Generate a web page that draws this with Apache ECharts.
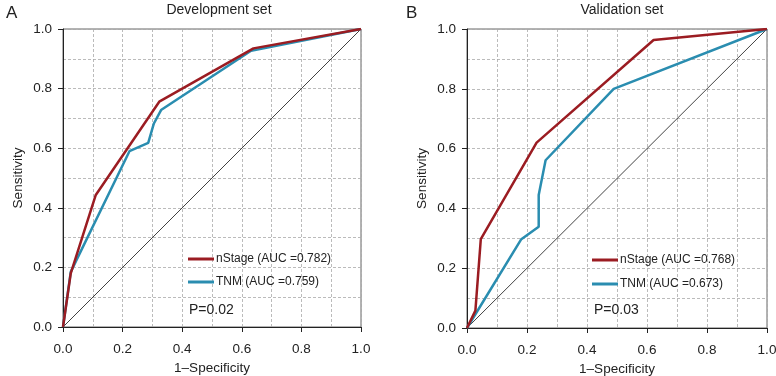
<!DOCTYPE html>
<html><head><meta charset="utf-8">
<script src="https://cdn.jsdelivr.net/npm/echarts@6/dist/echarts.min.js"></script>
<style>html,body{margin:0;padding:0;background:#fff}#c{width:776px;height:376px}</style>
</head><body><div id="c"></div>
<script>
// Panel A: Development set
const devNStage = [[0,0],[0.026,0.18],[0.11,0.443],[0.323,0.756],[0.639,0.935],[1,1]];
const devTNM = [[0,0],[0.026,0.185],[0.223,0.59],[0.286,0.618],[0.305,0.683],[0.329,0.728],[0.631,0.927],[1,1]];
// Panel B: Validation set
const valNStage = [[0,0],[0.028,0.058],[0.046,0.297],[0.232,0.62],[0.622,0.963],[1,1]];
const valTNM = [[0,0],[0.181,0.297],[0.239,0.339],[0.239,0.445],[0.262,0.561],[0.489,0.80],[1,1]];
const diagonal = [[0,0],[1,1]];
const titles = ['Development set','Validation set'];
const panelLetters = ['A','B'];
const namesA = ['nStage (AUC =0.782)','TNM (AUC =0.759)'];
const namesB = ['nStage (AUC =0.768)','TNM (AUC =0.673)'];
const pValues = ['P=0.02','P=0.03'];

const RED = '#9b1c22', TEAL = '#2a8db0';
const FONT = 'Liberation Sans, Arial, sans-serif';
const grids = [
  {left:63, top:29, width:298, height:298},
  {left:467, top:29, width:300, height:299}
];
function xAxis(i){
  return {gridIndex:i, type:'value', min:0, max:1, interval:0.2,
    name:'1\u2013Specificity', nameLocation:'middle', nameGap:32,
    nameTextStyle:{fontFamily:FONT, fontSize:13.5, color:'#222'},
    axisLine:{lineStyle:{color:'#222', width:1}},
    axisTick:{length:5, lineStyle:{color:'#222'}},
    axisLabel:{fontFamily:FONT, fontSize:13.5, color:'#222', margin:15, formatter:v=>v.toFixed(1)},
    splitLine:{show:true, lineStyle:{color:'#aaa', type:[3,2], width:0.8}},
    minorTick:{show:false, splitNumber:2},
    minorSplitLine:{show:true, lineStyle:{color:'#aaa', type:[3,2], width:0.8}}
  };
}
function yAxis(i){
  return {gridIndex:i, type:'value', min:0, max:1, interval:0.2,
    name:'Sensitivity', nameLocation:'middle', nameGap:38,
    nameTextStyle:{fontFamily:FONT, fontSize:13.5, color:'#222'},
    axisLine:{lineStyle:{color:'#222', width:1}},
    axisTick:{length:5, lineStyle:{color:'#222'}},
    axisLabel:{fontFamily:FONT, fontSize:13.5, color:'#222', margin:11, formatter:v=>v.toFixed(1)},
    splitLine:{show:true, lineStyle:{color:'#aaa', type:[3,2], width:0.8}},
    minorTick:{show:false, splitNumber:2},
    minorSplitLine:{show:true, lineStyle:{color:'#aaa', type:[3,2], width:0.8}}
  };
}
function line(name, data, color, i, w){
  return {type:'line', name:name, data:data, xAxisIndex:i, yAxisIndex:i,
    showSymbol:false, symbol:'none', lineStyle:{color:color, width:w}, itemStyle:{color:color},
    animation:false, z:3};
}
const chart = echarts.init(document.getElementById('c'), null, {renderer:'canvas'});
chart.setOption({
  animation:false,
  grid: grids.map(g=>Object.assign({show:true, borderColor:'#666', borderWidth:1, backgroundColor:'transparent', containLabel:false, outerBoundsMode:'none'}, g)),
  xAxis:[xAxis(0), xAxis(1)],
  yAxis:[yAxis(0), yAxis(1)],
  title:[
    {text:titles[0], left:214, top:-2, textAlign:'center', textStyle:{fontFamily:FONT, fontSize:14, fontWeight:'normal', color:'#222'}},
    {text:titles[1], left:617, top:-2, textAlign:'center', textStyle:{fontFamily:FONT, fontSize:14, fontWeight:'normal', color:'#222'}},
    {text:panelLetters[0], left:1, top:0, textStyle:{fontFamily:FONT, fontSize:17, fontWeight:'normal', color:'#222'}},
    {text:panelLetters[1], left:401, top:0, textStyle:{fontFamily:FONT, fontSize:17, fontWeight:'normal', color:'#222'}},
    {text:pValues[0], left:184, top:298, textStyle:{fontFamily:FONT, fontSize:14, fontWeight:'normal', color:'#222'}},
    {text:pValues[1], left:589, top:298, textStyle:{fontFamily:FONT, fontSize:14, fontWeight:'normal', color:'#222'}}
  ],
  legend:[
    {data:namesA, orient:'vertical', left:183, top:248, itemWidth:26, itemHeight:3, itemGap:11, icon:'rect',
     textStyle:{fontFamily:FONT, fontSize:12, color:'#222', padding:[0,0,0,-3]}},
    {data:namesB, orient:'vertical', left:587, top:249, itemWidth:26, itemHeight:3, itemGap:12, icon:'rect',
     textStyle:{fontFamily:FONT, fontSize:12, color:'#222', padding:[0,0,0,-3]}}
  ],
  series:[
    {type:'line', data:diagonal, xAxisIndex:0, yAxisIndex:0, showSymbol:false, symbol:'none', lineStyle:{color:'#111', width:0.8}, z:2},
    line(namesA[1], devTNM, TEAL, 0, 2.5),
    line(namesA[0], devNStage, RED, 0, 2.5),
    {type:'line', data:diagonal, xAxisIndex:1, yAxisIndex:1, showSymbol:false, symbol:'none', lineStyle:{color:'#111', width:0.8}, z:2},
    line(namesB[1], valTNM, TEAL, 1, 2.5),
    line(namesB[0], valNStage, RED, 1, 2.5)
  ]
});
</script></body></html>
